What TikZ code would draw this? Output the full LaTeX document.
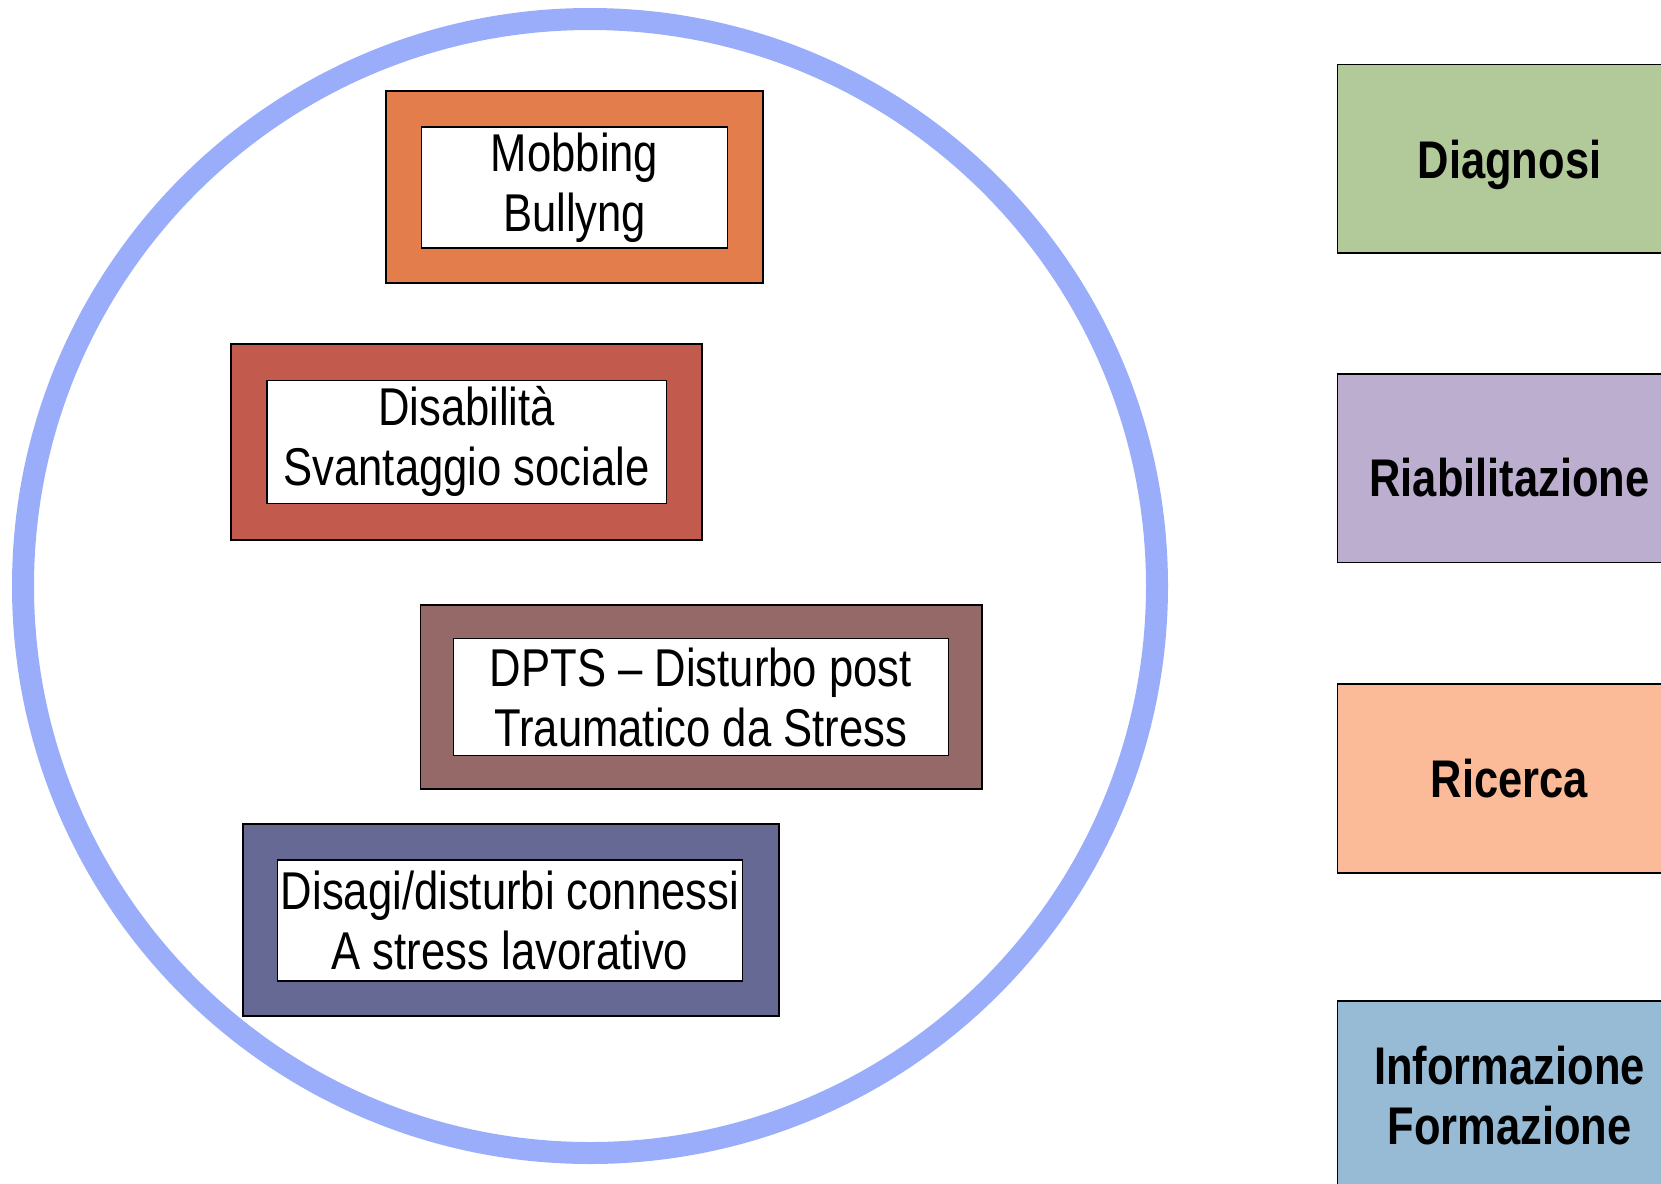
\documentclass[tikz,border=0pt]{standalone}
\usepackage{fontspec}
\setmainfont{Liberation Sans}[FakeStretch=0.82]
\usepackage{xcolor}
\usepackage{tikz}
\definecolor{ringblue}{HTML}{9AADFB}
\definecolor{mobcol}{HTML}{E37E4C}
\definecolor{discol}{HTML}{C25A4E}
\definecolor{dptscol}{HTML}{956968}
\definecolor{strcol}{HTML}{666993}
\definecolor{diagcol}{HTML}{B2C99A}
\definecolor{riabcol}{HTML}{BCAECF}
\definecolor{riccol}{HTML}{FBBB98}
\definecolor{infcol}{HTML}{98BBD5}

\begin{document}
\begin{tikzpicture}[x=0.5pt, y=-0.5pt,
    outerbox/.style={shape=rectangle, draw=black, line width=0.9pt, inner sep=0pt},
    innerbox/.style={shape=rectangle, draw=black, fill=white, line width=0.7pt, inner sep=0pt,
      align=center, font=\fontsize{26.6}{30}\selectfont},
    sidebox/.style={shape=rectangle, draw=black, line width=0.9pt, inner sep=0pt,
      minimum width=172pt, minimum height=94.3pt, align=center,
      font=\fontsize{26.5}{30}\selectfont\bfseries}]
    \useasboundingbox (0,0) rectangle (1661,1184);
    \clip (0,0) rectangle (1661,1184);

    \draw[ringblue, line width=11pt] (590,586) circle (283.5pt);

    \node[outerbox, fill=mobcol, minimum width=188.5pt, minimum height=95.9pt] (mobout) at (574.2,187) {};
    \node[innerbox, minimum width=153pt, minimum height=60.5pt] (mobin) at (574.6,187.5) {Mobbing\\Bullyng};

    \node[outerbox, fill=discol, minimum width=235.7pt, minimum height=98pt] (disout) at (466.6,442.2) {};
    \node[innerbox, minimum width=199.7pt, minimum height=61.5pt] (disin) at (466.6,441.7) {Disabilità\\Svantaggio sociale};

    \node[outerbox, fill=dptscol, minimum width=280.8pt, minimum height=92.2pt] (dptsout) at (701.2,697) {};
    \node[innerbox, minimum width=247.4pt, minimum height=58.3pt] (dptsin) at (700.8,697) {DPTS -- Disturbo post\\Traumatico da Stress};

    \node[outerbox, fill=strcol, minimum width=268pt, minimum height=95.9pt] (strout) at (510.6,920) {};
    \node[innerbox, minimum width=232.5pt, minimum height=60.4pt] (strin) at (510,920.5) {Disagi/disturbi connessi\\A stress lavorativo};

    \node[sidebox, fill=diagcol, text height=22pt, text depth=2pt] (diag) at (1509.5,158.8) {Diagnosi};
    \node[sidebox, fill=riabcol, text height=28pt, text depth=0pt] (riab) at (1509.5,468.2) {Riabilitazione};
    \node[sidebox, fill=riccol] (ric) at (1509.5,778.6) {Ricerca};
    \node[sidebox, fill=infcol] (inf) at (1509.5,1095.3) {Informazione\\Formazione};
\end{tikzpicture}
\end{document}
